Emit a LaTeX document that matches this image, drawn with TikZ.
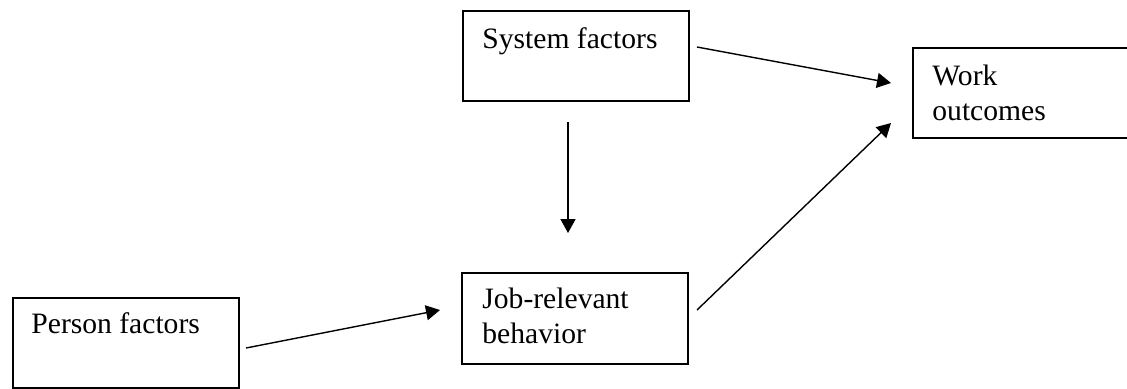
\documentclass[tikz,border=0pt]{standalone}
\usepackage{fontspec}
\setmainfont{Liberation Serif}
\usetikzlibrary{arrows.meta}
\begin{document}
\begin{tikzpicture}[x=0.5pt,y=-0.5pt,
  factorbox/.style={draw,line width=0.75pt,inner sep=0pt,anchor=north west,
    minimum width=#1},
  factorbox/.default=113pt,
  boxtext/.style={inner sep=0pt,anchor=base west,
    font=\fontsize{14.8pt}{17.75pt}\selectfont},
  link/.style={line width=0.7pt,-{Triangle[length=7pt,width=7.5pt]}}]
\useasboundingbox (0,0) rectangle (1127,388);

% boxes
\node[factorbox,minimum height=45pt] (sys) at (462,10) {};
\node[factorbox,minimum height=45.5pt] (job) at (461,272) {};
\node[factorbox,minimum height=45pt] (person) at (12,297) {};
\node[factorbox=114pt,minimum height=45pt] (work) at (912,47) {};

% box captions
\node[boxtext] (systxt) at (482,48) {\parbox[t]{100pt}{System factors}};
\node[boxtext] (jobtxt) at (482,308) {\parbox[t]{100pt}{Job-relevant\\behavior}};
\node[boxtext] (persontxt) at (31,333) {\parbox[t]{100pt}{Person factors}};
\node[boxtext] (worktxt) at (932,85) {\parbox[t]{100pt}{Work\\outcomes}};

% connector ends, set apart from the boxes
\coordinate (sysE) at (697,47);
\coordinate (sysS) at (568,122);
\coordinate (jobN) at (568,233);
\coordinate (jobE) at (697,310);
\coordinate (personE) at (246,348);
\coordinate (jobW) at (440,310);
\coordinate (workW1) at (891,83);
\coordinate (workW2) at (891,123);

% connectors
\draw[link] (sysE) -- (workW1);
\draw[link] (jobE) -- (workW2);
\draw[link] (sysS) -- (jobN);
\draw[link] (personE) -- (jobW);
\end{tikzpicture}
\end{document}
